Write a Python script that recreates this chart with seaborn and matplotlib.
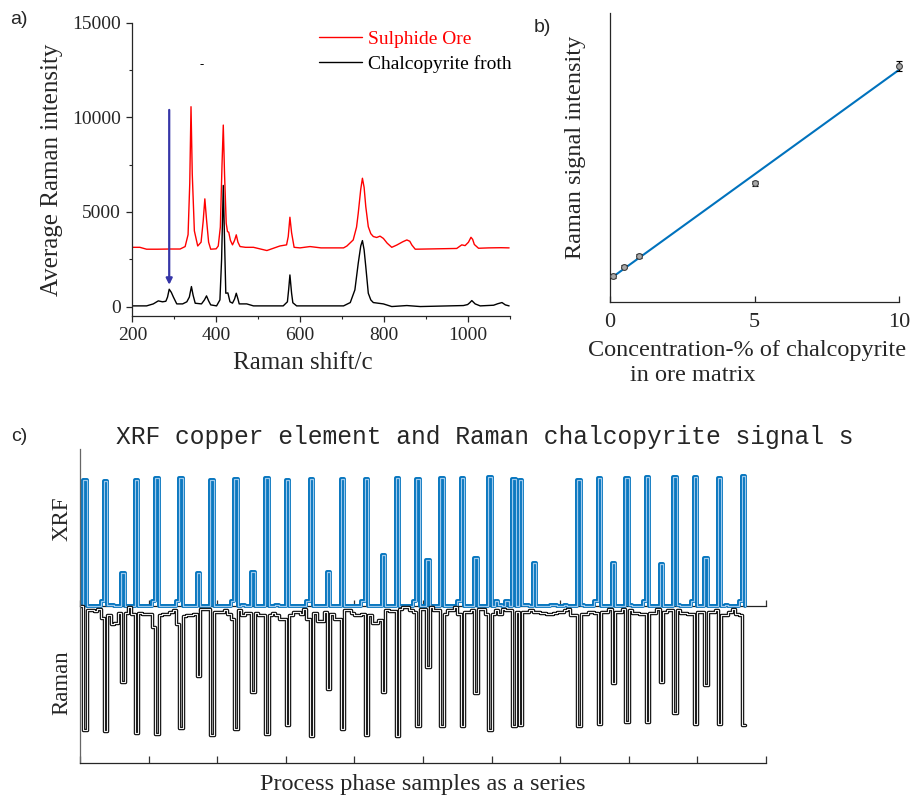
import numpy as np
import pandas as pd
import matplotlib
matplotlib.use("Agg")
import matplotlib.pyplot as plt
import seaborn as sns

# ---------------- panel a: Raman spectra ----------------
ore_shift = [200, 218, 234, 260, 290, 314, 326, 333, 337, 340, 343, 348, 356, 364, 369, 373, 377, 382,
             387, 400, 405, 410, 414, 417, 420, 424, 427, 430, 434, 439, 444, 448, 452, 457, 470, 489,
             521, 552, 568, 572, 576, 580, 586, 600, 624, 650, 704, 712, 727, 735, 739, 745, 749, 753,
             757, 763, 769, 775, 783, 791, 799, 808, 819, 831, 845, 855, 862, 867, 875, 900, 950, 974,
             986, 994, 1002, 1008, 1012, 1016, 1026, 1050, 1080, 1099]
ore_int = [3130, 3130, 3030, 3030, 3040, 3040, 3170, 3800, 6500, 10560, 7000, 4000, 3200, 3400, 4500, 5690,
           4600, 3400, 3030, 3050, 3200, 4200, 7500, 9590, 7000, 4400, 3960, 3930, 3500, 3260, 3500, 3790,
           3400, 3170, 3130, 3130, 2960, 3200, 3260, 3700, 4720, 3900, 3130, 3100, 3170, 3100, 3100, 3200,
           3520, 4200, 4930, 6200, 6780, 6300, 5280, 4220, 3850, 3700, 3650, 3720, 3600, 3350, 3130, 3250,
           3420, 3520, 3450, 3250, 3030, 3040, 3060, 3070, 3260, 3220, 3400, 3660, 3550, 3280, 3080, 3100,
           3110, 3100]
froth_shift = [200, 234, 250, 262, 272, 280, 284, 288, 293, 298, 306, 320, 330, 336, 341, 345, 350, 365,
               372, 377, 382, 387, 401, 409, 413, 417, 420, 423, 428, 433, 439, 444, 448, 452, 455, 473,
               489, 560, 570, 573, 576, 580, 583, 592, 704, 720, 731, 739, 745, 749, 753, 757, 763, 769,
               775, 799, 819, 855, 887, 990, 1000, 1005, 1010, 1018, 1030, 1062, 1072, 1082, 1090, 1099]
froth_int = [35, 35, 140, 300, 250, 280, 500, 915, 750, 500, 140, 140, 250, 500, 1056, 600, 176, 140,
             350, 563, 300, 88, 35, 352, 2500, 6400, 3500, 704, 720, 250, 180, 400, 704, 400, 140, 140,
             35, 35, 250, 900, 1670, 700, 200, 35, 35, 211, 880, 2288, 3200, 3485, 3000, 2112, 704, 350,
             211, 140, 0, 53, 0, 53, 105, 200, 316, 140, 35, 70, 150, 211, 88, 35]
arrow_shift = 288
arrow_from, arrow_to = 10390, 1150

# ---------------- panel b: calibration ----------------
conc = [0.1, 0.5, 1, 5, 10]
signal = [77, 105, 138, 355, 708]
signal_err = [5, 5, 6, 7, 15]

# ---------------- panel c: process series ----------------
xrf_idx = [1, 7, 16, 22, 29, 38, 45, 54, 60, 67, 76, 83, 92, 98, 105, 111, 119, 126, 128, 145, 151, 159,
           165, 173, 179, 186, 193,
           12, 34, 50, 72, 88, 101, 115, 132, 155, 169, 182,
           6, 21, 28, 44, 66, 82, 97, 110, 121, 124, 150, 164, 178, 192,
           8, 9, 47, 57, 122, 129, 130, 137, 138, 141, 146, 160, 174, 188]
xrf_val = [0.99, 0.98, 0.99, 1.00, 1.00, 0.99, 0.995, 1.00, 0.99, 0.995, 0.995, 0.995, 1.00, 0.995, 1.005,
           1.005, 1.01, 0.995, 0.99, 0.99, 1.00, 1.00, 1.01, 1.01, 1.01, 1.00, 1.02,
           0.26, 0.26, 0.27, 0.27, 0.40, 0.36, 0.38, 0.34, 0.34, 0.33, 0.38,
           0.037, 0.037, 0.037, 0.037, 0.037, 0.037, 0.037, 0.037, 0.037, 0.037, 0.037, 0.037, 0.037, 0.037,
           0.01, 0.01, 0.01, 0.01, 0.01, 0.01, 0.01, 0.01, 0.01, 0.01, 0.01, 0.01, 0.01, 0.01]
xrf_len = 195
raman = [0, -0.97, -0.03, -0.03, -0.04, -0.025, -0.09, -0.98, -0.07, -0.14,
         -0.13, -0.05, -0.59, -0.05, -0.01, -0.06, -0.99, -0.05, -0.06, -0.06,
         -0.06, -0.16, -1.00, -0.07, -0.065, -0.065, -0.045, -0.03, -0.14, -0.95,
         -0.08, -0.07, -0.07, -0.06, -0.55, -0.026, -0.026, -0.02, -1.01, -0.045,
         -0.045, -0.045, -0.03, -0.06, -0.10, -0.96, -0.03, -0.07, -0.05, -0.05,
         -0.67, -0.05, -0.07, -0.07, -1.00, -0.07, -0.05, -0.07, -0.10, -0.10,
         -0.93, -0.07, -0.045, -0.045, -0.06, -0.026, -0.10, -1.02, -0.05, -0.12,
         -0.12, -0.045, -0.65, -0.06, -0.10, -0.10, -0.96, -0.03, -0.03, -0.05,
         -0.07, -0.07, -0.06, -1.01, -0.07, -0.135, -0.135, -0.11, -0.67, -0.03,
         -0.035, -0.035, -1.02, -0.02, -0.005, -0.005, -0.03, -0.045, -0.94, -0.02,
         -0.02, -0.48, -0.005, -0.03, -0.03, -0.94, -0.06, -0.03, -0.03, -0.005,
         -0.06, -0.94, -0.045, -0.045, -0.03, -0.68, -0.026, -0.026, -0.06, -0.97,
         -0.06, -0.03, -0.06, -0.02, -0.03, -0.03, -0.94, -0.045, -0.93, -0.045,
         -0.045, -0.03, -0.045, -0.045, -0.05, -0.05, -0.06, -0.06, -0.05, -0.045,
         -0.045, -0.03, -0.02, -0.07, -0.07, -0.94, -0.06, -0.06, -0.045, -0.045,
         -0.05, -0.92, -0.045, -0.045, -0.026, -0.60, -0.045, -0.045, -0.026, -0.91,
         -0.03, -0.05, -0.05, -0.06, -0.06, -0.91, -0.05, -0.05, -0.02, -0.59,
         -0.045, -0.03, -0.03, -0.84, -0.03, -0.05, -0.05, -0.06, -0.06, -0.92,
         -0.045, -0.045, -0.62, -0.045, -0.045, -0.03, -0.92, -0.07, -0.07, -0.045,
         -0.026, -0.06, -0.07, -0.93]
c_xticks = list(range(0, 201, 20))

# ---------------- style ----------------
sns.set_style("ticks")
plt.rcParams["font.family"] = ["Liberation Serif", "DejaVu Serif"]
plt.rcParams["axes.linewidth"] = 0.9

fig = plt.figure(figsize=(9.12, 7.96), dpi=100)

# ===== panel a =====
ax_a = fig.add_axes([0.1451, 0.6030, 0.4136, 0.3685])
sns.lineplot(x=ore_shift, y=ore_int, color="#ff0000", lw=1.0, ax=ax_a, label="Sulphide Ore",
             sort=False, estimator=None)
sns.lineplot(x=froth_shift, y=froth_int, color="black", lw=1.0, ax=ax_a, label="Chalcopyrite froth",
             sort=False, estimator=None)
ax_a.annotate("", xy=(arrow_shift, arrow_to), xytext=(arrow_shift, arrow_from),
              arrowprops=dict(arrowstyle="-|>", color="#3636a8", lw=1.6, mutation_scale=9,
                              shrinkA=0, shrinkB=0))
ax_a.text(366, 12770, "-", fontsize=9, ha="center", va="center", color="black")
ax_a.set_xlim(200, 1100)
ax_a.set_ylim(-500, 15000)
ax_a.set_xticks([200, 400, 600, 800, 1000])
ax_a.set_xticks([300, 500, 700, 900, 1100], minor=True)
ax_a.set_yticks([0, 5000, 10000, 15000])
ax_a.set_yticks([2500, 7500, 12500], minor=True)
ax_a.tick_params(axis="both", which="major", direction="out", length=4, width=0.9,
                 labelsize=14, pad=4)
ax_a.tick_params(axis="both", which="minor", direction="out", length=2.2, width=0.8)
sns.despine(ax=ax_a)
ax_a.set_xlabel("Raman shift/c", fontsize=18, va="center")
ax_a.xaxis.set_label_coords(0.4525, -0.160)
ax_a.set_ylabel("Average Raman intensity", fontsize=18, va="center")
ax_a.yaxis.set_label_coords(-0.2137, 0.498)
leg = ax_a.legend(frameon=False, loc="upper left", bbox_to_anchor=(0.495, 0.975), borderaxespad=0,
                  borderpad=0, handlelength=2.2, handletextpad=0.3, labelspacing=0.36, fontsize=14)
for txt, ln in zip(leg.get_texts(), leg.get_lines()):
    txt.set_color(ln.get_color())

# ===== panel b =====
ax_b = fig.add_axes([0.6689, 0.6210, 0.3169, 0.3631])
sns.regplot(x=conc, y=signal, scatter=False, ci=None, truncate=True, color="#0072BD",
            line_kws={"lw": 1.5}, ax=ax_b)
ax_b.errorbar(conc, signal, yerr=signal_err, fmt="o", ms=4.2, mfc="#a8a8a8", mec="#404040", mew=0.8,
              ecolor="black", elinewidth=1.0, capsize=2.2, clip_on=False, zorder=5)
ax_b.set_xlim(0, 10)
ax_b.set_ylim(0, 867)
ax_b.set_xticks([0, 5, 10])
ax_b.set_yticks([])
ax_b.tick_params(axis="x", direction="in", length=4, width=0.9, labelsize=16, pad=8)
sns.despine(ax=ax_b)
ax_b.set_ylabel("Raman signal intensity", fontsize=17.5, va="center")
ax_b.yaxis.set_label_coords(-0.121, 0.534)
ax_b.text(-0.076, (301.7 - 356) / 289, "Concentration-% of chalcopyrite", transform=ax_b.transAxes,
          fontsize=17.5, ha="left", va="baseline")
ax_b.text((630 - 610) / 289, (301.7 - 381) / 289, "in ore matrix", transform=ax_b.transAxes,
          fontsize=17.5, ha="left", va="baseline")

# ===== panel c =====
ax_c = fig.add_axes([0.0877, 0.0411, 0.7522, 0.3949])
xrf = np.zeros(xrf_len)
xrf[xrf_idx] = xrf_val
xrf_df = pd.DataFrame({"sample": np.arange(xrf_len), "value": xrf})
ram_df = pd.DataFrame({"sample": np.arange(len(raman) + 1), "value": raman + [raman[-1]]})

sns.lineplot(data=xrf_df, x="sample", y="value", drawstyle="steps-post", color="#0072BD", lw=2.8,
             ax=ax_c, estimator=None)
sns.lineplot(data=xrf_df, x="sample", y="value", drawstyle="steps-post", color="#9ec9ec", lw=0.9,
             ax=ax_c, estimator=None)
sns.lineplot(data=ram_df, x="sample", y="value", drawstyle="steps-post", color="#111111", lw=2.5,
             ax=ax_c, estimator=None)
sns.lineplot(data=ram_df, x="sample", y="value", drawstyle="steps-post", color="#f0f0f0", lw=0.8,
             ax=ax_c, estimator=None)
ax_c.set_xlim(0, 200)
ax_c.set_ylim(-1.23, 1.23)
ax_c.set_xticks(c_xticks)
ax_c.set_xticklabels([])
ax_c.set_yticks([])
ax_c.tick_params(axis="x", direction="in", length=5, width=0.9, color="#333333")
sns.despine(ax=ax_c)
ax_c.spines["left"].set_color("#666666")
ax_c.set_xlabel("")
ax_c.set_ylabel("")
sec = ax_c.secondary_xaxis(0.5)
sec.set_xticks(c_xticks)
sec.set_xticklabels([])
sec.tick_params(axis="x", direction="out", length=4.5, width=0.9, color="#333333")
for sp in sec.spines.values():
    sp.set_linewidth(0.9)
    sp.set_color("#222222")
ax_c.text(-0.026, 0.777, "XRF", transform=ax_c.transAxes, rotation=90, fontsize=16.5,
          ha="center", va="center")
ax_c.text(-0.027, 0.255, "Raman", transform=ax_c.transAxes, rotation=90, fontsize=16.5,
          ha="center", va="center")
ax_c.text(0.5, -0.068, "Process phase samples as a series", transform=ax_c.transAxes, fontsize=17.5,
          ha="center", va="center")
fig.text(485 / 912, 1 - 437 / 796, "XRF copper element and Raman chalcopyrite signal s",
         family=["Liberation Mono", "DejaVu Sans Mono"], fontsize=17.7, ha="center", va="center")

# panel letters
for lbl, px, py in [("a)", 19, 19), ("b)", 542, 28), ("c)", 19, 436)]:
    fig.text(px / 912, 1 - py / 796, lbl, family=["Liberation Sans", "DejaVu Sans"], fontsize=14,
             ha="center", va="center")

fig.savefig("out.png", dpi=100)
